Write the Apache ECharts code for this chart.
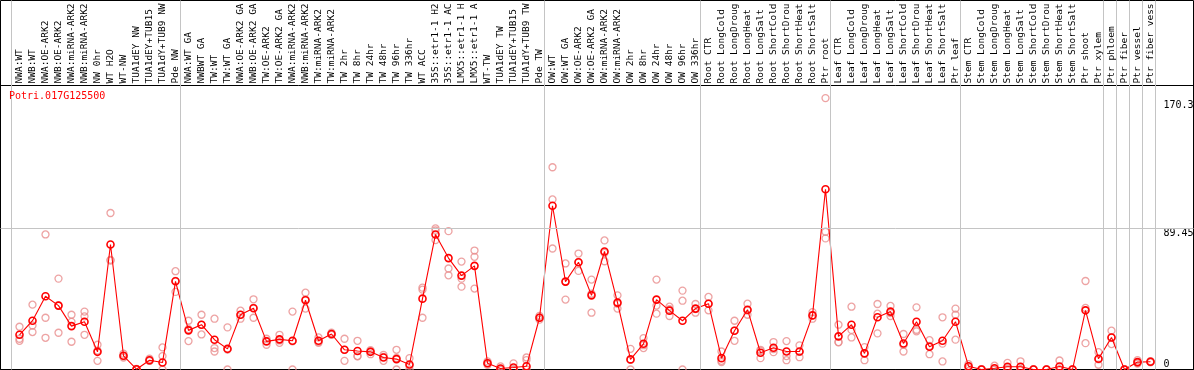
<!DOCTYPE html>
<html>
<head>
<meta charset="utf-8">
<script src="https://cdn.jsdelivr.net/npm/echarts@6/dist/echarts.min.js"></script>
<style>
  html, body { margin: 0; padding: 0; background: #fff; }
  #chart { width: 1194px; height: 370px; }
</style>
</head>
<body>
<div id="chart"></div>
<script>
// ---------------- data ----------------
const chartTitle = 'Potri.017G125500';

const categories = [
  'NWA:WT', 'NWB:WT', 'NWA:OE-ARK2', 'NWB:OE-ARK2', 'NWA:miRNA-ARK2', 'NWB:miRNA-ARK2',
  'NW 0hr', 'WT H2O', 'WT-NW', 'TUA1dEY NW', 'TUA1dEY+TUB15 NW', 'TUA1dY+TUB9 NW', 'Pde NW',
  'NWA:WT GA', 'NWBWT GA', 'TW:WT', 'TW:WT GA', 'NWA:OE-ARK2 GA', 'NWB:OE-ARK2 GA',
  'TW:OE-ARK2', 'TW:OE-ARK2 GA', 'NWA:miRNA-ARK2 GA', 'NWB:miRNA-ARK2 GA', 'TW:miRNA-ARK2',
  'TW:miRNA-ARK2 GA', 'TW 2hr', 'TW 8hr', 'TW 24hr', 'TW 48hr', 'TW 96hr', 'TW 336hr',
  'WT ACC', '35S::etr1-1 H2O', '35S::etr1-1 ACC', 'LMX5::etr1-1 H2O', 'LMX5::etr1-1 ACC',
  'WT-TW', 'TUA1dEY TW', 'TUA1dEY+TUB15 TW', 'TUA1dY+TUB9 TW', 'Pde TW',
  'OW:WT', 'OW:WT GA', 'OW:OE-ARK2', 'OW:OE-ARK2 GA', 'OW:miRNA-ARK2', 'OW:miRNA-ARK2 GA',
  'OW 2hr', 'OW 8hr', 'OW 24hr', 'OW 48hr', 'OW 96hr', 'OW 336hr',
  'Root CTR', 'Root LongCold', 'Root LongDrought', 'Root LongHeat', 'Root LongSalt',
  'Root ShortCold', 'Root ShortDrought', 'Root ShortHeat', 'Root ShortSalt', 'Ptr root',
  'Leaf CTR', 'Leaf LongCold', 'Leaf LongDrought', 'Leaf LongHeat', 'Leaf LongSalt',
  'Leaf ShortCold', 'Leaf ShortDrought', 'Leaf ShortHeat', 'Leaf ShortSalt', 'Ptr leaf',
  'Stem CTR', 'Stem LongCold', 'Stem LongDrought', 'Stem LongHeat', 'Stem LongSalt',
  'Stem ShortCold', 'Stem ShortDrought', 'Stem ShortHeat', 'Stem ShortSalt', 'Ptr shoot',
  'Ptr xylem', 'Ptr phloem', 'Ptr fiber', 'Ptr vessel', 'Ptr fiber vessel'
];

const means = [
  22.0, 30.9, 46.4, 40.5, 27.5, 30.3, 11.2, 79.2, 8.7, 0.2,
  5.9, 4.4, 55.9, 24.8, 28.4, 18.9, 13.1, 34.7, 38.8, 17.8,
  19.1, 18.2, 43.9, 18.2, 22.5, 12.5, 11.7, 11.2, 7.6, 6.6,
  3.2, 44.9, 85.6, 70.6, 59.5, 65.7, 4.0, 0.6, 1.3, 2.1,
  32.8, 103.8, 55.7, 68.0, 47.0, 74.8, 42.4, 6.4, 16.3, 44.3,
  37.3, 30.9, 38.6, 41.7, 7.2, 24.6, 37.9, 10.6, 13.8, 11.4,
  11.4, 34.3, 114.2, 21.0, 28.4, 10.2, 33.1, 36.7, 16.5, 30.3,
  14.4, 18.2, 30.3, 2.1, 0.0, 0.8, 1.7, 1.7, 0.0, 0.0,
  1.9, 0.0, 37.5, 6.8, 20.3, 0.0, 4.7, 4.9
];

const rep1 = [
  27.1, 41.1, 85.6, 57.6, 34.7, 36.7, 15.7, 99.2, 10.0, 0.4,
  6.8, 14.0, 62.3, 30.9, 34.7, 32.2, 26.7, 37.3, 44.5, 19.5,
  22.0, 36.7, 48.7, 20.3, 23.3, 19.5, 18.2, 12.3, 9.3, 12.5,
  7.2, 51.9, 89.4, 87.7, 68.4, 75.4, 5.1, 2.0, 3.9, 7.6,
  34.0, 128.2, 67.2, 73.5, 57.0, 81.8, 47.0, 13.1, 19.9, 57.0,
  39.8, 50.0, 41.5, 46.0, 11.4, 30.9, 41.7, 12.5, 17.4, 18.0,
  15.3, 36.4, 172.0, 28.4, 39.8, 14.2, 41.5, 40.3, 22.5, 39.4,
  18.6, 33.1, 38.6, 3.4, 0.3, 2.4, 4.2, 5.2, 0.2, 0.1,
  5.7, 0.0, 56.1, 11.0, 24.6, 0.0, 5.9, 5.3
];

const rep2 = [
  19.5, 27.9, 32.8, 40.6, 30.2, 33.7, 12.0, 69.5, 8.5, 0.1,
  5.5, 8.5, 56.2, 25.5, 28.3, 13.6, 12.6, 34.6, 39.1, 18.2,
  18.4, 17.9, 44.4, 17.4, 22.2, 12.5, 8.5, 11.4, 8.0, 7.3,
  2.4, 50.6, 88.1, 64.0, 57.6, 71.4, 4.0, 0.0, 0.0, 6.0,
  32.8, 107.8, 55.6, 68.0, 48.0, 74.0, 41.6, 6.1, 15.4, 40.5,
  38.2, 43.6, 38.3, 41.7, 5.5, 24.7, 37.4, 11.8, 13.0, 8.5,
  11.2, 34.3, 87.3, 17.4, 25.1, 10.4, 35.4, 35.8, 15.6, 25.2,
  14.9, 16.4, 34.7, 2.0, 0.0, 0.0, 0.9, 0.0, 0.0, 0.0,
  0.0, 0.0, 39.0, 6.4, 20.3, 0.0, 4.4, 4.9
];

const rep3 = [
  18.2, 23.7, 20.1, 23.3, 17.6, 22.0, 5.5, 69.0, 7.6, 0.0,
  5.5, 0.0, 49.2, 18.0, 22.2, 11.4, 0.0, 32.2, 32.8, 15.7,
  16.9, 0.0, 38.6, 16.9, 22.0, 5.5, 8.4, 9.7, 5.5, 0.0,
  0.0, 32.8, 82.0, 59.7, 52.5, 51.3, 3.0, 0.0, 0.0, 0.0,
  31.6, 76.7, 44.3, 62.5, 36.0, 68.6, 38.6, 0.0, 13.6, 35.4,
  33.9, 0.0, 36.0, 37.5, 4.7, 18.2, 34.7, 7.2, 11.0, 5.9,
  7.8, 32.2, 83.1, 17.2, 20.3, 5.9, 22.9, 33.9, 11.4, 24.2,
  9.7, 5.1, 18.9, 0.9, 0.0, 0.0, 0.0, 0.0, 0.0, 0.0,
  0.0, 0.0, 16.7, 3.0, 16.1, 0.0, 3.8, 4.5
];

// value-axis tick labels shown on the right
const yTickLabels = ['0', '89.45', '170.3'];
// index of the first category of each group (last entry = end of list)
const groupStarts = [0, 13, 41, 53, 63, 73, 84, 85, 86, 87, 88];

// ---------------- layout / style ----------------
const W = 1194;
const PX0 = 19.5;       // pixel x of first category centre
const BAND = 13;        // pixels per category
const SEP_OFFSET = 8;   // separators sit this many px before a group's first category
const PLOT_TOP = 85.5;
const Y_MAX = 180;
const MAX_LABEL_CHARS = 14;  // header labels are cut to this many characters
const MONO = 'DejaVu Sans Mono';
const GRID_GRAY = '#c4c4c4';

const N = categories.length;
const tickVals = yTickLabels.map(Number);

const repData = [];
[rep1, rep2, rep3].forEach(function (rep) {
  rep.forEach(function (v, i) { repData.push([i, v]); });
});

const chart = echarts.init(document.getElementById('chart'), null, { renderer: 'canvas' });

const option = {
  animation: false,
  backgroundColor: '#fff',
  title: {
    text: chartTitle,
    left: 9, top: 91, padding: 0,
    textStyle: { color: '#ff0000', fontSize: 10, fontFamily: MONO, fontWeight: 'normal' }
  },
  grid: [
    // 0: full-width plot box (divider line, right-side labels, horizontal guide)
    { left: 0.5, right: 0.5, top: PLOT_TOP, bottom: 0.5, show: true, outerBoundsMode: 'none',
      borderColor: '#000', borderWidth: 1, backgroundColor: 'transparent', containLabel: false },
    // 1: category band grid (data + header labels)
    { left: PX0 - BAND / 2, right: W - (PX0 + (N - 0.5) * BAND), top: PLOT_TOP, bottom: 0.5,
      outerBoundsMode: 'none', containLabel: false },
    // 2: whole frame (outer border + vertical separators)
    { left: 0.5, right: 0.5, top: 0.5, bottom: 0.5, show: true, outerBoundsMode: 'none',
      borderColor: '#000', borderWidth: 1, backgroundColor: 'transparent', containLabel: false }
  ],
  xAxis: [
    { gridIndex: 0, type: 'value', min: 0, max: 1, show: false },
    { gridIndex: 1, type: 'category', position: 'top', data: categories, boundaryGap: true,
      axisLine: { show: false }, axisTick: { show: false }, splitLine: { show: false },
      axisLabel: { rotate: 90, interval: 0, margin: 2, fontFamily: MONO, fontSize: 9.5, color: '#000',
        formatter: v => String(v).slice(0, MAX_LABEL_CHARS) } },
    { gridIndex: 2, type: 'value', show: false,
      min: -(PX0 - 0.5) / BAND, max: (W - 0.5 - PX0) / BAND }
  ],
  yAxis: [
    { gridIndex: 0, type: 'value', position: 'right', min: 0, max: Y_MAX,
      axisLine: { show: false }, axisTick: { show: false }, splitLine: { show: false },
      axisLabel: { inside: true, customValues: tickVals.filter(v => v !== 0),
        formatter: v => yTickLabels[tickVals.indexOf(v)] || String(v),
        align: 'left', verticalAlign: 'top', margin: 30,
        fontFamily: MONO, fontSize: 10, color: '#000' } },
    { gridIndex: 0, type: 'value', position: 'right', min: 0, max: Y_MAX,
      axisLine: { show: false }, axisTick: { show: false }, splitLine: { show: false },
      axisLabel: { inside: true, customValues: tickVals.filter(v => v === 0),
        formatter: v => yTickLabels[tickVals.indexOf(v)] || String(v),
        align: 'left', verticalAlign: 'bottom', margin: 30,
        fontFamily: MONO, fontSize: 10, color: '#000' } },
    { gridIndex: 1, type: 'value', min: 0, max: Y_MAX, show: false, splitLine: { show: false } },
    { gridIndex: 2, type: 'value', min: 0, max: 1, show: false, splitLine: { show: false } }
  ],
  series: [
    { // horizontal guide line
      type: 'line', xAxisIndex: 0, yAxisIndex: 0, data: [], silent: true,
      markLine: { silent: true, symbol: ['none', 'none'], label: { show: false },
        lineStyle: { color: GRID_GRAY, width: 1, type: 'solid' },
        emphasis: { disabled: true },
        data: [{ yAxis: tickVals[1] }] }
    },
    { // vertical group separators
      type: 'line', xAxisIndex: 2, yAxisIndex: 3, data: [], silent: true,
      markLine: { silent: true, symbol: ['none', 'none'], label: { show: false },
        lineStyle: { color: GRID_GRAY, width: 1, type: 'solid' },
        emphasis: { disabled: true },
        data: groupStarts.map(s => ({ xAxis: s - SEP_OFFSET / BAND })) }
    },
    { // replicates
      type: 'scatter', xAxisIndex: 1, yAxisIndex: 2, data: repData, z: 3, silent: true,
      symbol: 'circle', symbolSize: 7, clip: false,
      itemStyle: { color: 'rgba(0,0,0,0)', borderColor: '#e98c8c', borderWidth: 1.3 }
    },
    { // means
      type: 'line', xAxisIndex: 1, yAxisIndex: 2, data: means, z: 4, silent: true,
      symbol: 'circle', symbolSize: 7, showAllSymbol: true, clip: false,
      lineStyle: { color: '#ff0000', width: 1.1 },
      itemStyle: { color: 'rgba(0,0,0,0)', borderColor: '#ff0000', borderWidth: 1.6 }
    }
  ]
};

chart.setOption(option);
</script>
</body>
</html>
